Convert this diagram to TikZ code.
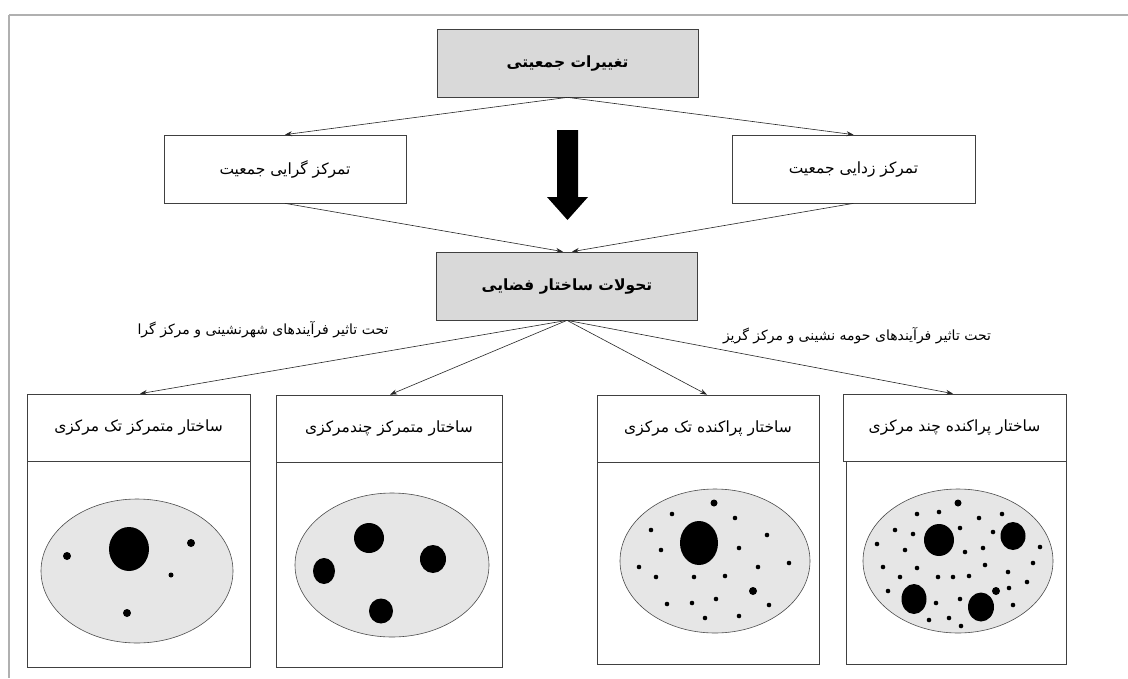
\documentclass[tikz,border=0pt]{standalone}
\usepackage{fontspec}
\usetikzlibrary{arrows.meta}
\TeXXeTstate=1
\newfontfamily\fa[Script=Arabic]{DejaVu Sans}
\definecolor{boxgray}{HTML}{D9D9D9}
\definecolor{ellgray}{HTML}{E6E6E6}
\definecolor{framegray}{HTML}{B0B0B0}
\begin{document}
\begin{tikzpicture}[x=1pt,y=-1pt,
  box/.style={draw=black!75,line width=0.7pt,rectangle,inner sep=0pt,align=center},
  graybox/.style={box,fill=boxgray,minimum width=261pt,minimum height=68pt,font=\fa\bfseries\fontsize{15.5}{18}\selectfont},
  midbox/.style={box,fill=white,minimum height=68pt,font=\fa\fontsize{15.5}{18}\selectfont},
  head/.style={box,fill=white,minimum height=67pt,font=\fa\fontsize{15.5}{18}\selectfont},
  body/.style={box,fill=white},
  lbl/.style={inner sep=0pt,font=\fa\fontsize{14}{16}\selectfont},
  conn/.style={draw=black!85,line width=0.6pt,-{Stealth[length=7pt,width=5pt]}},
  ell/.style={draw=black!70,line width=0.6pt,fill=ellgray},
  sdot/.style={fill=black}]
\useasboundingbox (0,0) rectangle (1128,678);
\fill[white] (0,0) rectangle (1128,678);
% frame
\draw[framegray,line width=1.8pt] (9,15) -- (1128,15);
\draw[framegray,line width=1.8pt] (9,15) -- (9,678);

% nodes
\node[graybox] (top) at (567.5,63) {\beginR تغییرات جمعیتی\endR};
\node[midbox,minimum width=242pt] (mleft) at (285,169) {\beginR تمرکز گرایی جمعیت\endR};
\node[midbox,minimum width=243pt] (mright) at (853.5,169) {\beginR تمرکز زدایی جمعیت\endR};
\node[graybox] (mid) at (567,286) {\beginR تحولات ساختار فضایی\endR};

\node[lbl] (lblL) at (263,330) {\beginR تحت تاثیر فرآیندهای شهرنشینی و مرکز گرا\endR};
\node[lbl] (lblR) at (857,336) {\beginR تحت تاثیر فرآیندهای حومه نشینی و مرکز گریز\endR};

% bottom boxes
\node[body,minimum width=223pt,minimum height=206pt] (b1) at (138.5,564) {};
\node[head,minimum width=223pt] (h1) at (138.5,427.5) {\beginR ساختار متمرکز تک مرکزی\endR};
\node[body,minimum width=226pt,minimum height=205pt] (b2) at (389,564.5) {};
\node[head,minimum width=226pt] (h2) at (389,428.5) {\beginR ساختار متمرکز چندمرکزی\endR};
\node[body,minimum width=222pt,minimum height=202pt] (b3) at (708,563) {};
\node[head,minimum width=222pt] (h3) at (708,428.5) {\beginR ساختار پراکنده تک مرکزی\endR};
\node[body,minimum width=220pt,minimum height=203pt] (b4) at (956,562.5) {};
\node[head,minimum width=223pt] (h4) at (954.5,427.5) {\beginR ساختار پراکنده چند مرکزی\endR};

% connectors
\draw[conn] (top.south) -- (mleft.north);
\draw[conn] (top.south) -- (mright.north);
\draw[conn] (mleft.south) -- ([xshift=-4pt]mid.north);
\draw[conn] (mright.south) -- ([xshift=5pt]mid.north);
\draw[conn] (mid.south) -- ([xshift=1.5pt]h1.north);
\draw[conn] (mid.south) -- ([xshift=1pt]h2.north);
\draw[conn] (mid.south) -- ([xshift=-1pt]h3.north);
\draw[conn] (mid.south) -- ([xshift=-1.5pt]h4.north);

% big arrow
\fill[black] (557,130) -- (578,130) -- (578,197) -- (588,197) -- (567.5,220) -- (547,197) -- (557,197) -- cycle;

% ellipse 1
\draw[ell] (137,571) ellipse [x radius=96,y radius=72];
\fill[sdot] (129,549) ellipse [x radius=20,y radius=22];
\foreach \x/\y/\r in {67/556/4,191/543/4,171/575/2.5,127/613/4}
  \fill[sdot] (\x,\y) circle (\r);

% ellipse 2
\draw[ell] (392,565) ellipse [x radius=97,y radius=72];
\fill[sdot] (369,538) ellipse [x radius=15,y radius=15];
\fill[sdot] (433,559) ellipse [x radius=13,y radius=14];
\fill[sdot] (324,571) ellipse [x radius=11,y radius=13];
\fill[sdot] (381,611) ellipse [x radius=12,y radius=12.5];

% ellipse 3
\draw[ell] (715,561) ellipse [x radius=95,y radius=72];
\fill[sdot] (699,543) ellipse [x radius=19,y radius=22];
\foreach \x/\y/\r in {714/503/3.5,672/514/2.3,735/518/2.3,651/530/2.3,767/535/2.3,661/550/2.3,739/548/2.3,639/567/2.3,758/567/2.3,789/563/2.3,656/577/2.3,694/577/2.3,725/576/2.3,753/591/4,667/604/2.3,692/603/2.3,716/599/2.3,769/605/2.3,705/618/2.3,739/616/2.3}
  \fill[sdot] (\x,\y) circle (\r);

% ellipse 4
\draw[ell] (958,561) ellipse [x radius=95,y radius=72];
\fill[sdot] (939,540) ellipse [x radius=15,y radius=16];
\fill[sdot] (1013,536) ellipse [x radius=12.5,y radius=14];
\fill[sdot] (914,599) ellipse [x radius=12.5,y radius=15];
\fill[sdot] (981,607) ellipse [x radius=13,y radius=14.5];
\foreach \x/\y/\r in {958/503/3.5,996/591/4,917/514/2.3,939/512/2.3,979/518/2.3,1002/514/2.3,895/530/2.3,913/534/2.3,960/528/2.3,993/532/2.3,877/544/2.3,905/550/2.3,965/552/2.3,983/548/2.3,1040/547/2.3,883/567/2.3,917/568/2.3,985/565/2.3,1033/563/2.3,900/577/2.3,938/577/2.3,953/577/2.3,969/576/2.3,1008/572/2.3,1027/582/2.3,888/591/2.3,1009/588/2.3,936/603/2.3,960/599/2.3,1013/605/2.3,929/620/2.3,949/618/2.3,961/626/2.3}
  \fill[sdot] (\x,\y) circle (\r);
\end{tikzpicture}
\end{document}
